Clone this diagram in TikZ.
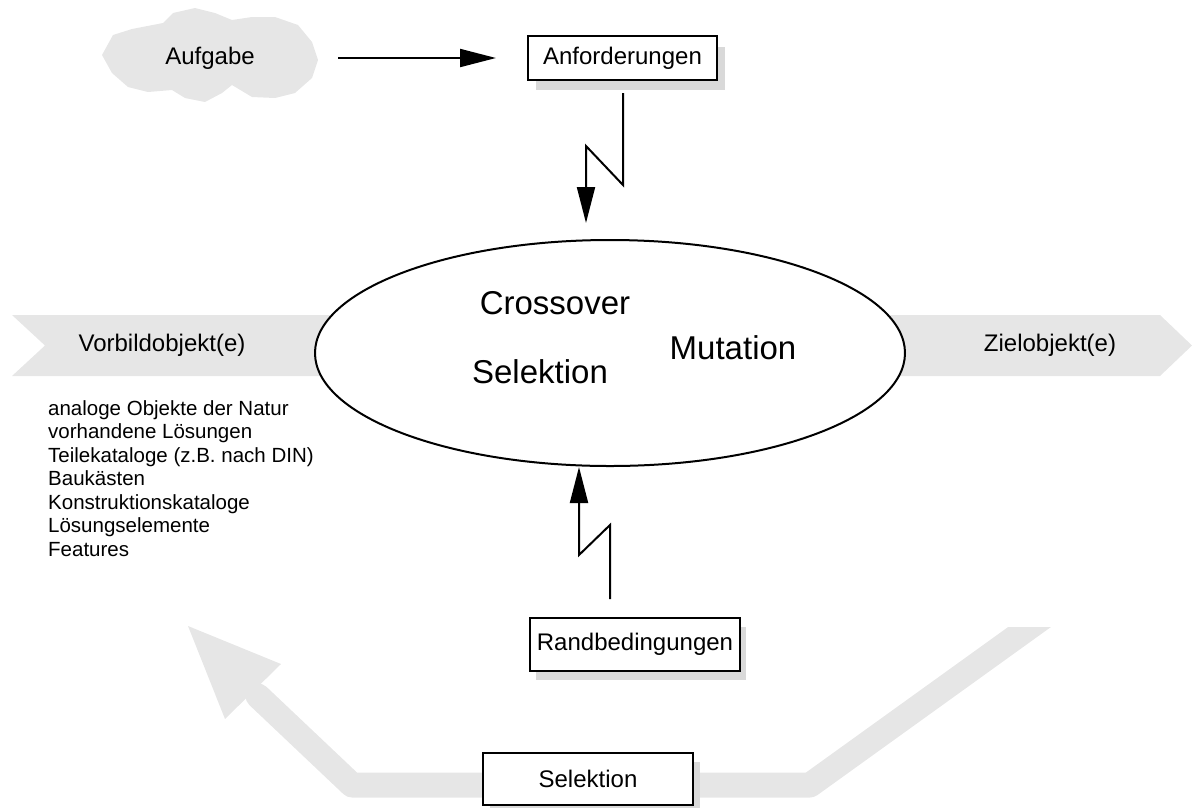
\documentclass[tikz,border=0pt]{standalone}
\usepackage{fontspec}
\setmainfont{Liberation Sans}
\usetikzlibrary{arrows.meta,shapes.geometric,calc}
\definecolor{band}{RGB}{230,230,230}
\definecolor{shadowc}{RGB}{217,217,217}
\tikzset{
  lbl/.style={font=\fontsize{24}{28}\selectfont},
  biglbl/.style={font=\fontsize{33}{38}\selectfont},
  listlbl/.style={font=\fontsize{20.5}{23.5}\selectfont},
  boxnode/.style={draw, line width=2pt, fill=white, inner sep=0pt, lbl},
  conn/.style={line width=2pt, -{Triangle[length=36pt,width=18pt]}},
}
\begin{document}
\begin{tikzpicture}[x=1pt,y=-1pt]
\useasboundingbox (0,0) rectangle (1192,807);

% cloud
\fill[band] (102,55) -- (113,35) -- (132,29) -- (163,23) -- (173,13) -- (195,8)
  -- (215,13) -- (232,20) -- (252,17) -- (275,17) -- (298,25) -- (312,42)
  -- (318,60) -- (312,78) -- (295,93) -- (275,98) -- (252,97) -- (232,85)
  -- (222,93) -- (205,102) -- (185,98) -- (172,90) -- (148,92) -- (128,87)
  -- (112,73) -- cycle;
\node[lbl] (aufgabe) at (210,58) {Aufgabe};

% Anforderungen
\fill[shadowc] (536,47) rectangle (725,90);
\node[boxnode, minimum width=189pt, minimum height=44pt] (anf) at (622.5,58) {Anforderungen};

% bands
\fill[band] (12,315) -- (330,315) -- (330,376) -- (12,376) -- (45,345.5) -- cycle;
\fill[band] (890,315) -- (1160,315) -- (1192,345.5) -- (1160,376) -- (890,376) -- cycle;
\node[lbl] (vorbild) at (162,345) {Vorbildobjekt(e)};
\node[lbl] (ziel) at (1050,345) {Zielobjekt(e)};

% ellipse
\node[draw, ellipse, line width=2pt, fill=white, inner sep=0pt,
      minimum width=590pt, minimum height=226pt] (evo) at (610,353) {};
\node[biglbl] (cross) at (555,303) {Crossover};
\node[biglbl] (mut) at (733,348) {Mutation};
\node[biglbl] (sel) at (540,372) {Selektion};

% list
\node[listlbl, anchor=north west, align=left, inner sep=0pt] (liste) at (48,400)
  {analoge Objekte der Natur\\vorhandene Lösungen\\Teilekataloge (z.B. nach DIN)\\Baukästen\\Konstruktionskataloge\\Lösungselemente\\Features};

% Randbedingungen
\fill[shadowc] (536,627) rectangle (746,680);
\node[boxnode, minimum width=210pt, minimum height=53pt] (rand) at (635,644.5) {Randbedingungen};

% big grey return arrow
\begin{scope}
  \clip (0,627) rectangle (1192,807);
  \draw[band, line width=25pt, line join=round, line cap=round]
    (1049,613) -- (810,785) -- (352,785) -- (258,696);
\end{scope}
\fill[band] (188,626) -- (281,664) -- (225,719) -- cycle;

% Selektion box
\fill[shadowc] (490,762) rectangle (700,815);
\node[boxnode, minimum width=210pt, minimum height=52pt] (selbox) at (588,779) {Selektion};

% connectors
\draw[conn] ($(aufgabe.center)+(128,0)$) -- ($(anf.west)+(-31,0)$);
\draw[conn, shorten >=16pt] (623,0 |- anf.south) ++(0,12) -- (623,185) -- (586,146) -- (586,0 |- evo.north);
\draw[conn, shorten <=18pt] (610,0 |- rand.north) -- (610,525) -- (579,555) -- (579,0 |- evo.south);
\end{tikzpicture}
\end{document}
